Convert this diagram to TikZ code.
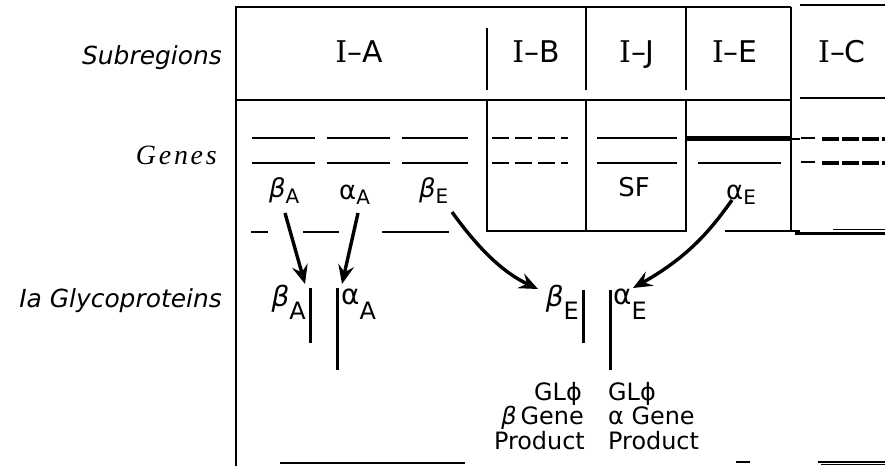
\documentclass[tikz,border=0pt]{standalone}
\usepackage{fontspec}
\setmainfont{DejaVu Sans}
\newfontfamily\serI{DejaVu Serif}
\newfontfamily\genesfont[LetterSpace=10]{Liberation Serif}
\usetikzlibrary{arrows.meta}
\newcommand\gsub[3]{\raisebox{-#2bp}{\fontsize{#1}{#1}\selectfont #3}}
\tikzset{
  frame/.style={line width=2.2bp},
  thinframe/.style={line width=1.4bp},
  gene/.style={line width=2.6bp},
  heavy/.style={line width=4.4bp},
  dgene/.style={line width=2.6bp, dash pattern=on 17bp off 6bp},
  dheavy/.style={line width=4.6bp, dash pattern=on 17bp off 3bp},
  pbar/.style={line width=3bp},
  arr/.style={line width=3.4bp, -{Stealth[length=19bp,width=16bp,inset=7bp]}},
  hdr/.style={font=\fontsize{30}{32}\selectfont, anchor=base, inner sep=0},
  side/.style={font=\itshape\fontsize{25}{28}\selectfont, anchor=base east, inner sep=0},
  glab/.style={font=\fontsize{26}{28}\selectfont, anchor=base west, inner sep=0},
  plab/.style={font=\fontsize{28}{30}\selectfont, inner sep=0},
  prod/.style={font=\fontsize{24}{26}\selectfont, inner sep=0}
}
\begin{document}
\begin{tikzpicture}[x=1bp,y=-1bp]
\useasboundingbox (0,0) rectangle (885,466);
% ---- frame ----
\draw[frame] (236,466) -- (236,7) -- (791,7);
\draw[frame] (800,5) -- (885,5);
\draw[frame] (236,100) -- (791,100);
\draw[frame] (800,98) -- (885,98);
\draw[frame] (487,28) -- (487,90);
\draw[frame] (586,7) -- (586,90);
\draw[frame] (686,7) -- (686,90);
\draw[frame] (791,7) -- (791,232);
\draw[frame] (487,100) -- (487,231) -- (686,231) -- (686,100);
\draw[frame] (586,100) -- (586,231);
\draw[frame] (725,231) -- (800,231);
\draw[frame] (795,233.5) -- (885,233.5);
\draw[thinframe] (833,229.5) -- (885,229.5);
% dashes under gene row
\draw[thinframe] (251,232) -- (268,232);
\draw[thinframe] (303,232) -- (339,232);
\draw[thinframe] (382,232) -- (449,232);
% bottom fragments
\draw[thinframe] (280,463) -- (465,463);
\draw[thinframe] (736,462) -- (750,462);
\draw[thinframe] (818,462) -- (885,462);
\draw[thinframe] (821,464.5) -- (885,464.5);
% ---- header texts ----
\node[hdr] (hA) at (359,63) {{\serI I}–A};
\node[hdr] (hB) at (536,63) {{\serI I}–B};
\node[hdr] (hJ) at (637,63) {{\serI I}–J};
\node[hdr] (hE) at (735,63) {{\serI I}–E};
\node[hdr] (hC) at (842,63) {{\serI I}–C};
% ---- side labels ----
\node[side] (sSub) at (222,65) {Subregions};
\node[side, font=\genesfont\itshape\fontsize{28}{30}\selectfont] (sGen) at (217,165) {Genes};
\node[side] (sIa) at (222,308) {Ia Glycoproteins};
% ---- genes ----
\foreach \a/\b in {252/315,327/390,402/468}{
  \draw[gene] (\a,138) -- (\b,138);
  \draw[gene] (\a,163) -- (\b,163);
}
\draw[dgene] (492,138) -- (568,138);
\draw[dgene] (492,163) -- (568,163);
\draw[gene] (597,138) -- (677,138);
\draw[gene] (597,163) -- (677,163);
\draw[heavy] (686,138.5) -- (791,138.5);
\draw[gene] (791,139) -- (800,139);
\draw[gene] (698,163) -- (781,163);
\draw[gene] (801,138) -- (815,138);
\draw[gene] (801,162) -- (815,162);
\draw[dheavy] (822,139) -- (885,139);
\draw[dheavy] (822,163) -- (885,163);
% gene labels
\node[glab] (gbA) at (269,198) {{\itshape β}\gsub{20}{6}{A}};
\node[glab] (gaA) at (339,200) {α\gsub{20}{5}{A}};
\node[glab] (gbE) at (419,198) {{\itshape β}\gsub{20}{6}{E}};
\node[glab, anchor=base] (gSF) at (634,197) {SF};
\node[glab] (gaE) at (726,200) {α\gsub{20}{5}{E}};
% ---- proteins ----
\coordinate (tbA) at (310,288); \coordinate (bbA) at (310,343);
\coordinate (taA) at (337,288); \coordinate (baA) at (337,370);
\coordinate (tbE) at (583,290); \coordinate (bbE) at (583,343);
\coordinate (taE) at (610,290); \coordinate (baE) at (610,370);
\draw[pbar] (tbA) -- (bbA);
\draw[pbar] (taA) -- (baA);
\draw[pbar] (tbE) -- (bbE);
\draw[pbar] (taE) -- (baE);
\node[plab, anchor=base east] (pbA) at (306,307) {{\itshape β}\gsub{24}{13}{A}};
\node[plab, anchor=base west] (paA) at (341,305) {α\gsub{24}{15}{A}};
\node[plab, anchor=base east] (pbE) at (579,307) {{\itshape β}\gsub{24}{13}{E}};
\node[plab, anchor=base west] (paE) at (613,305) {α\gsub{24}{15}{E}};
% ---- arrows ----
\coordinate (sbA) at (285,213); \coordinate (ebA) at (305,284);
\coordinate (saA) at (358,213); \coordinate (eaA) at (342,284);
\coordinate (sbE) at (452,212); \coordinate (ebE) at (538,289);
\coordinate (saE) at (732,200); \coordinate (eaE) at (633,288);
\draw[arr] (sbA) -- (ebA);
\draw[arr] (saA) -- (eaA);
\draw[arr] (sbE) .. controls (478,248) and (502,272) .. (ebE);
\draw[arr] (saE) .. controls (712,228) and (690,256) .. (eaE);
% ---- product texts ----
\node[prod, anchor=base east] (r1) at (582,400) {GLϕ};
\node[prod, anchor=base east] (r2) at (584,424) {{\itshape β}\,Gene};
\node[prod, anchor=base east] (r3) at (585,449) {Product};
\node[prod, anchor=base west] (l1) at (608,400) {GLϕ};
\node[prod, anchor=base west] (l2) at (608,424) {α Gene};
\node[prod, anchor=base west] (l3) at (608,449) {Product};
\end{tikzpicture}
\end{document}
